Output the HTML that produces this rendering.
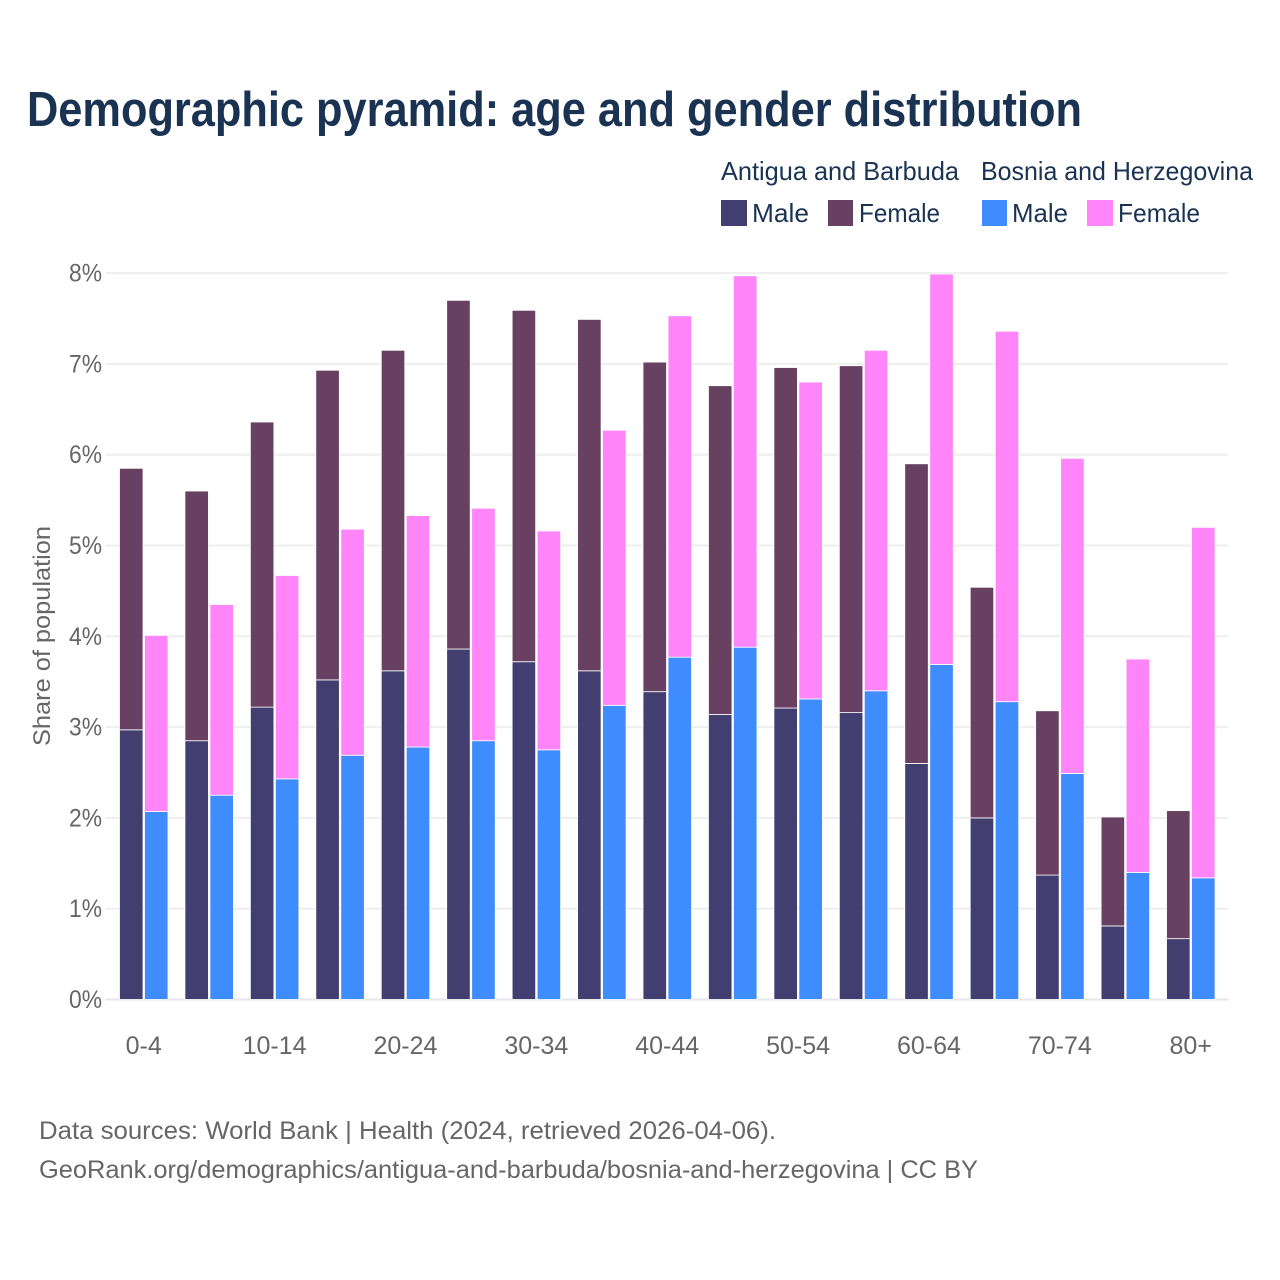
<!DOCTYPE html>
<html lang="en">
<head>
<meta charset="utf-8">
<title>Demographic pyramid</title>
<style>
html,body{margin:0;padding:0;background:#fff;}
svg{display:block;font-family:"Liberation Sans",sans-serif;}
.nav{fill:#1a3353;}
.mut{fill:#666;}
</style>
</head>
<body>
<svg id="chart" width="1280" height="1280" viewBox="0 0 1280 1280" xmlns="http://www.w3.org/2000/svg">
<rect x="0" y="0" width="1280" height="1280" fill="#fff"/>
<text class="nav" x="27" y="126" font-size="49" font-weight="700" textLength="1055" lengthAdjust="spacingAndGlyphs">Demographic pyramid: age and gender distribution</text>
<g font-size="26">
<text class="nav" x="721" y="180" textLength="238" lengthAdjust="spacingAndGlyphs">Antigua and Barbuda</text>
<text class="nav" x="981" y="180" textLength="272" lengthAdjust="spacingAndGlyphs">Bosnia and Herzegovina</text>
<rect x="721" y="200" width="26" height="26" fill="#433e70"/>
<text class="nav" x="752" y="222" textLength="57" lengthAdjust="spacingAndGlyphs">Male</text>
<rect x="828" y="200" width="25" height="26" fill="#674062"/>
<text class="nav" x="859" y="222" textLength="81" lengthAdjust="spacingAndGlyphs">Female</text>
<rect x="982" y="200" width="25" height="26" fill="#3f8cff"/>
<text class="nav" x="1012" y="222" textLength="56" lengthAdjust="spacingAndGlyphs">Male</text>
<rect x="1087" y="200" width="26" height="26" fill="#ff85f8"/>
<text class="nav" x="1118" y="222" textLength="82" lengthAdjust="spacingAndGlyphs">Female</text>
</g>
<g id="grid"></g>
<g id="yticks"></g>
<text class="mut" font-size="24" text-anchor="middle" transform="translate(50,636) rotate(-90)" textLength="220" lengthAdjust="spacingAndGlyphs">Share of population</text>
<g id="bars"></g>
<g id="xticks"></g>
<text class="mut" x="39" y="1139" font-size="25" textLength="737" lengthAdjust="spacingAndGlyphs">Data sources: World Bank | Health (2024, retrieved 2026-04-06).</text>
<text class="mut" x="39" y="1178" font-size="25" textLength="939" lengthAdjust="spacingAndGlyphs">GeoRank.org/demographics/antigua-and-barbuda/bosnia-and-herzegovina | CC BY</text>
</svg>
<script>
const ageGroups = ["0-4","5-9","10-14","15-19","20-24","25-29","30-34","35-39","40-44","45-49","50-54","55-59","60-64","65-69","70-74","75-79","80+"];
const xTickLabels = ["0-4","10-14","20-24","30-34","40-44","50-54","60-64","70-74","80+"];
const yTickValues = [0,1,2,3,4,5,6,7,8];
const antiguaMale = [2.97,2.85,3.22,3.52,3.62,3.86,3.72,3.62,3.39,3.14,3.21,3.16,2.60,2.00,1.37,0.81,0.67];
const antiguaFemale = [2.88,2.75,3.14,3.41,3.53,3.84,3.87,3.87,3.63,3.62,3.75,3.82,3.30,2.54,1.81,1.20,1.41];
const bosniaMale = [2.07,2.25,2.43,2.69,2.78,2.85,2.75,3.24,3.77,3.88,3.31,3.40,3.69,3.28,2.49,1.40,1.34];
const bosniaFemale = [1.94,2.10,2.24,2.49,2.55,2.56,2.41,3.03,3.76,4.09,3.49,3.75,4.30,4.08,3.47,2.35,3.86];

const NS = "http://www.w3.org/2000/svg";
const yScale = v => 999.5 - v * 90.8;
const xScale = i => 143.7 + i * 65.44;
const BAR_W = 23.5;

const gridG = document.getElementById("grid");
const yG = document.getElementById("yticks");
yTickValues.forEach(v => {
  const line = document.createElementNS(NS, "line");
  
  
  line.setAttribute("x1", 106);
  line.setAttribute("x2", 1228);
  line.setAttribute("y1", yScale(v));
  line.setAttribute("y2", yScale(v));
  line.setAttribute("stroke", v === 0 ? "#e6e6ee" : "#eeeeee");
  line.setAttribute("stroke-width", 2);
  gridG.appendChild(line);
  const t = document.createElementNS(NS, "text");
  
  
  t.setAttribute("class", "mut");
  t.setAttribute("x", 102);
  t.setAttribute("y", yScale(v) + 8.5);
  t.setAttribute("font-size", 25);
  t.setAttribute("text-anchor", "end");
  t.setAttribute("textLength", 33);
  t.setAttribute("lengthAdjust", "spacingAndGlyphs");
  t.textContent = v + "%";
  yG.appendChild(t);
});

const barsG = document.getElementById("bars");
function addBar(x, v0, v1, fill) {
  const r = document.createElementNS(NS, "rect");
  
  
  r.setAttribute("x", x);
  r.setAttribute("width", BAR_W);
  r.setAttribute("y", yScale(v1));
  r.setAttribute("height", yScale(v0) - yScale(v1));
  r.setAttribute("fill", fill);
  r.setAttribute("stroke", "#fff");
  r.setAttribute("stroke-width", 0.8);
  barsG.appendChild(r);
}
ageGroups.forEach((g, i) => {
  const left = xScale(i) - 24.2;
  const right = xScale(i) + 0.8;
  addBar(left, 0, antiguaMale[i], "#433e70");
  addBar(left, antiguaMale[i], antiguaMale[i] + antiguaFemale[i], "#674062");
  addBar(right, 0, bosniaMale[i], "#3f8cff");
  addBar(right, bosniaMale[i], bosniaMale[i] + bosniaFemale[i], "#ff85f8");
});

const xG = document.getElementById("xticks");
xTickLabels.forEach(lbl => {
  const t = document.createElementNS(NS, "text");
  
  
  t.setAttribute("class", "mut");
  t.setAttribute("x", xScale(ageGroups.indexOf(lbl)));
  t.setAttribute("y", 1054);
  t.setAttribute("font-size", 25);
  t.setAttribute("text-anchor", "middle");
  t.textContent = lbl;
  xG.appendChild(t);
});
</script>
</body>
</html>
